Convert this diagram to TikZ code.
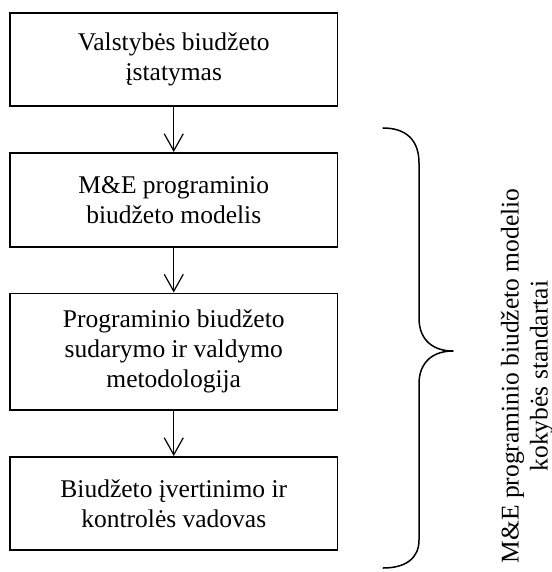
\documentclass[tikz,border=0pt]{standalone}
\usepackage{fontspec}
\setmainfont{Liberation Serif}
\usetikzlibrary{arrows.meta}
\begin{document}
\begin{tikzpicture}[x=1bp,y=-1bp,
  stagebox/.style={draw,line width=1.6bp,rectangle,anchor=north,
    minimum width=327.5bp,inner sep=0pt,align=center,
    font=\fontsize{25.5bp}{30bp}\selectfont},
  flow/.style={line width=1.2bp,-{Straight Barb[length=17bp,width=19bp,line width=1.2bp]}},
  bracepath/.style={line width=1.5bp,line cap=round,line join=round}]
\useasboundingbox (0,0) rectangle (552,572);

% stages of the programme budget framework
\node[stagebox,minimum height=93bp]   (law)  at (173.75,12)  {Valstybės biudžeto\\įstatymas};
\node[stagebox,minimum height=94bp]   (model) at (173.75,152) {M\&E programinio\\biudžeto modelis};
\node[stagebox,minimum height=116.5bp] (method) at (173.75,292.5) {Programinio biudžeto\\sudarymo ir valdymo\\metodologija};
\node[stagebox,minimum height=93bp]   (guide) at (173.75,456) {Biudžeto įvertinimo ir\\kontrolės vadovas};

\draw[flow] (law.south) -- (model.north);
\draw[flow] (model.south) -- (method.north);
\draw[flow] (method.south) -- (guide.north);

% curly brace grouping the lower three stages
\draw[bracepath] (383,128) .. controls (406,128) and (419,140) .. (419,163)
  -- (419,318) .. controls (419,340) and (433,351) .. (453,351)
  .. controls (433,351) and (419,362) .. (419,384)
  -- (419,540) .. controls (419,558) and (406,568) .. (383,568);

\node[rotate=90,align=center,inner sep=0pt,
  font=\fontsize{25.5bp}{29bp}\selectfont] (std) at (527,376)
  {M\&E programinio biudžeto modelio\\kokybės standartai};
\end{tikzpicture}
\end{document}
